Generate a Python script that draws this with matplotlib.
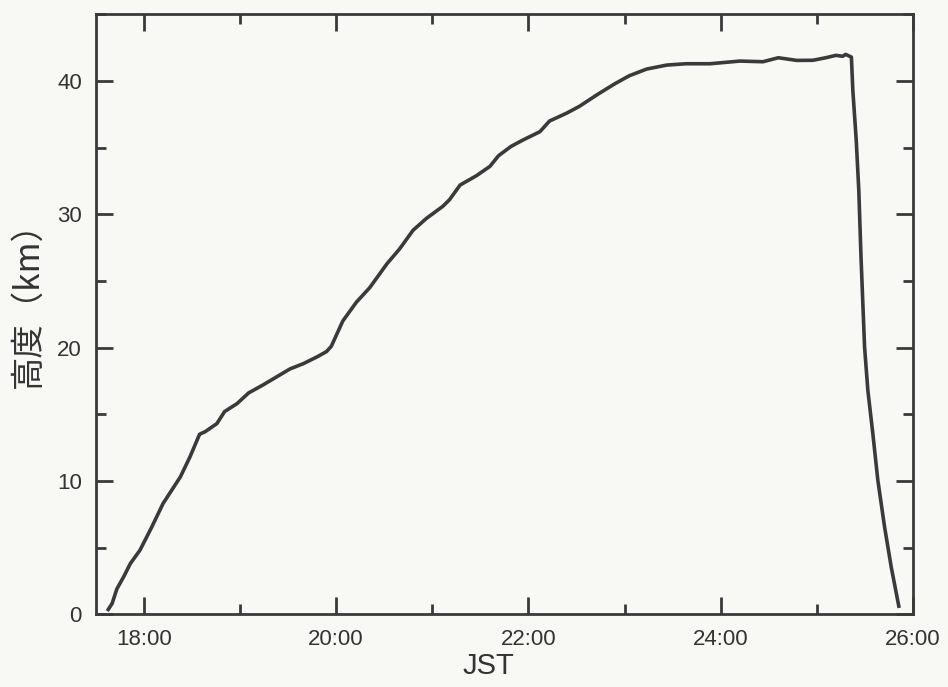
#Balloon altitude vs time (JST)

#import modules
import matplotlib
matplotlib.use("Agg")
import matplotlib.pyplot as plt
from matplotlib.ticker import MultipleLocator, FuncFormatter

#Data: time in hours (JST), altitude in km
time_h = [17.63, 17.67, 17.72, 17.79, 17.86, 17.96, 18.08, 18.20, 18.29, 18.38,
          18.48, 18.58, 18.64, 18.76, 18.84, 18.97, 19.09, 19.24, 19.38, 19.52,
          19.66, 19.80, 19.90, 19.95, 20.07, 20.21, 20.35, 20.53, 20.66, 20.80,
          20.94, 21.11, 21.18, 21.29, 21.46, 21.60, 21.69, 21.82, 21.95, 22.12,
          22.22, 22.40, 22.53, 22.72, 22.90, 23.05, 23.23, 23.44, 23.64, 23.89,
          24.20, 24.44, 24.60, 24.79, 24.96, 25.10, 25.20, 25.27, 25.30, 25.36,
          25.375, 25.41, 25.437, 25.46, 25.497, 25.531, 25.583, 25.635, 25.705, 25.774,
          25.853]
alt_km = [0.35, 0.8, 1.9, 2.8, 3.8, 4.8, 6.5, 8.3, 9.3, 10.3,
          11.8, 13.5, 13.7, 14.3, 15.2, 15.8, 16.6, 17.2, 17.8, 18.4,
          18.8, 19.3, 19.7, 20.1, 22.0, 23.4, 24.5, 26.3, 27.4, 28.8,
          29.7, 30.6, 31.1, 32.2, 32.9, 33.6, 34.4, 35.1, 35.6, 36.2,
          37.0, 37.6, 38.1, 39.0, 39.8, 40.4, 40.9, 41.2, 41.3, 41.3,
          41.5, 41.45, 41.75, 41.55, 41.56, 41.76, 41.93, 41.86, 42.0, 41.8,
          39.3, 35.6, 31.8, 26.8, 20.05, 16.8, 13.55, 10.05, 6.55, 3.55,
          0.6]

xtick_vals = [18, 20, 22, 24, 26]

plt.rcParams['font.family'] = ['Liberation Sans', 'DejaVu Sans']
ink = "#3a3a3a"

#plot the figure
fig = plt.figure(figsize=(9.48, 6.87), dpi=100, facecolor="#f8f8f4")
ax = fig.add_axes([0.101, 0.106, 0.862, 0.873])
ax.set_facecolor("#f8f8f4")
ax.plot(time_h, alt_km, color=ink, linewidth=2.6)

#axis limits and ticks
ax.set_xlim(17.5, 26)
ax.set_ylim(0, 45)
ax.set_xticks(xtick_vals)
ax.xaxis.set_minor_locator(MultipleLocator(1))
ax.yaxis.set_major_locator(MultipleLocator(10))
ax.yaxis.set_minor_locator(MultipleLocator(5))
ax.xaxis.set_major_formatter(FuncFormatter(lambda v, p: "%d:00" % v))
ax.tick_params(which="both", direction="in", top=True, right=True,
               color=ink, width=2, labelcolor="#333333", labelsize=16)
ax.tick_params(which="major", length=12)
ax.tick_params(which="minor", length=7)
ax.tick_params(axis="x", which="major", pad=11)
ax.tick_params(axis="y", which="major", pad=10)
for s in ax.spines.values():
    s.set_color(ink)
    s.set_linewidth(2)

#Label the figure
ax.set_xlabel("JST", fontsize=21, color="#333333")
ax.xaxis.set_label_coords(0.481, -0.063, transform=ax.transAxes)
ax.xaxis.label.set_verticalalignment("top")
ax.set_ylabel("高度（km）", fontsize=24, color="#333333",
              family=["Noto Sans CJK JP", "DejaVu Sans"])
ax.yaxis.set_label_coords(-0.083, 0.53, transform=ax.transAxes)
ax.yaxis.label.set_verticalalignment("center")

#output the plot to a file
fig.savefig("out.png", dpi=100, facecolor=fig.get_facecolor())
